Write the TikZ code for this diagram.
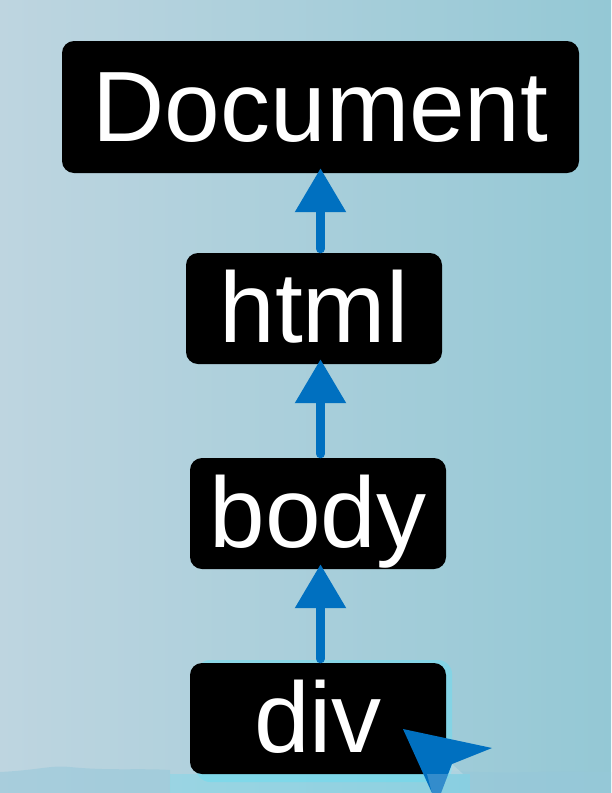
\documentclass[tikz,border=0pt]{standalone}
\usepackage{fontspec}
\setmainfont{Liberation Sans}
\usetikzlibrary{arrows.meta}
\definecolor{bgleft}{RGB}{190,213,224}
\definecolor{bgright}{RGB}{148,200,213}
\definecolor{arrblue}{RGB}{0,112,192}
\definecolor{glow}{RGB}{110,220,240}
\definecolor{band}{RGB}{150,200,218}
\tikzset{
  box/.style={fill=black, rounded corners=12pt, inner sep=0pt, text=white,
    font=\fontsize{100}{110}\selectfont, text height=72pt, text depth=4pt,
    minimum height=111pt, minimum width=256pt},
  uparrow/.style={draw=arrblue, line width=9pt, line cap=round,
    -{Triangle[length=44pt,width=49pt,line cap=butt]}}
}
\begin{document}
\begin{tikzpicture}[x=1pt,y=-1pt]
\useasboundingbox (0,0) rectangle (611,793);
\shade[left color=bgleft, right color=bgright] (0,0) rectangle (611,793);
% bottom band
\fill[band, opacity=0.55] (0,772) .. controls (40,770) and (50,765) .. (70,767) .. controls (110,771) and (140,768) .. (170,770) -- (170,793) -- (0,793) -- cycle;
\fill[band, opacity=0.55] (440,770) .. controls (500,775) and (560,770) .. (611,772) -- (611,793) -- (440,793) -- cycle;
% glow behind div
\fill[glow, opacity=0.55, rounded corners=14pt] (196,660) rectangle (452,782);
\fill[glow, opacity=0.35] (170,774) rectangle (470,793);
% nodes
\node[box, minimum width=517pt, minimum height=132pt] (doc) at (320.5,107) {Document};
\node[box] (html) at (314,308.5) {html};
\node[box] (body) at (318,513.5) {body};
\node[box] (div) at (318,718.5) {div};
% arrows
\draw[uparrow] ([yshift=4pt]html.north -| doc.south) -- ([yshift=5pt]doc.south);
\draw[uparrow] ([yshift=4pt]body.north -| doc.south) -- ([yshift=5pt]html.south -| doc.south);
\draw[uparrow] ([yshift=4pt]div.north -| doc.south) -- ([yshift=5pt]body.south -| doc.south);
% cursor shape
\fill[arrblue] (403,729) -- (492,748) -- (452,764) -- (441,793) -- (432,793) -- cycle;
\fill[white, opacity=0.2] (427,774) -- (463,774) -- (452,764) -- (441,793) -- (432,793) -- cycle;
\end{tikzpicture}
\end{document}
